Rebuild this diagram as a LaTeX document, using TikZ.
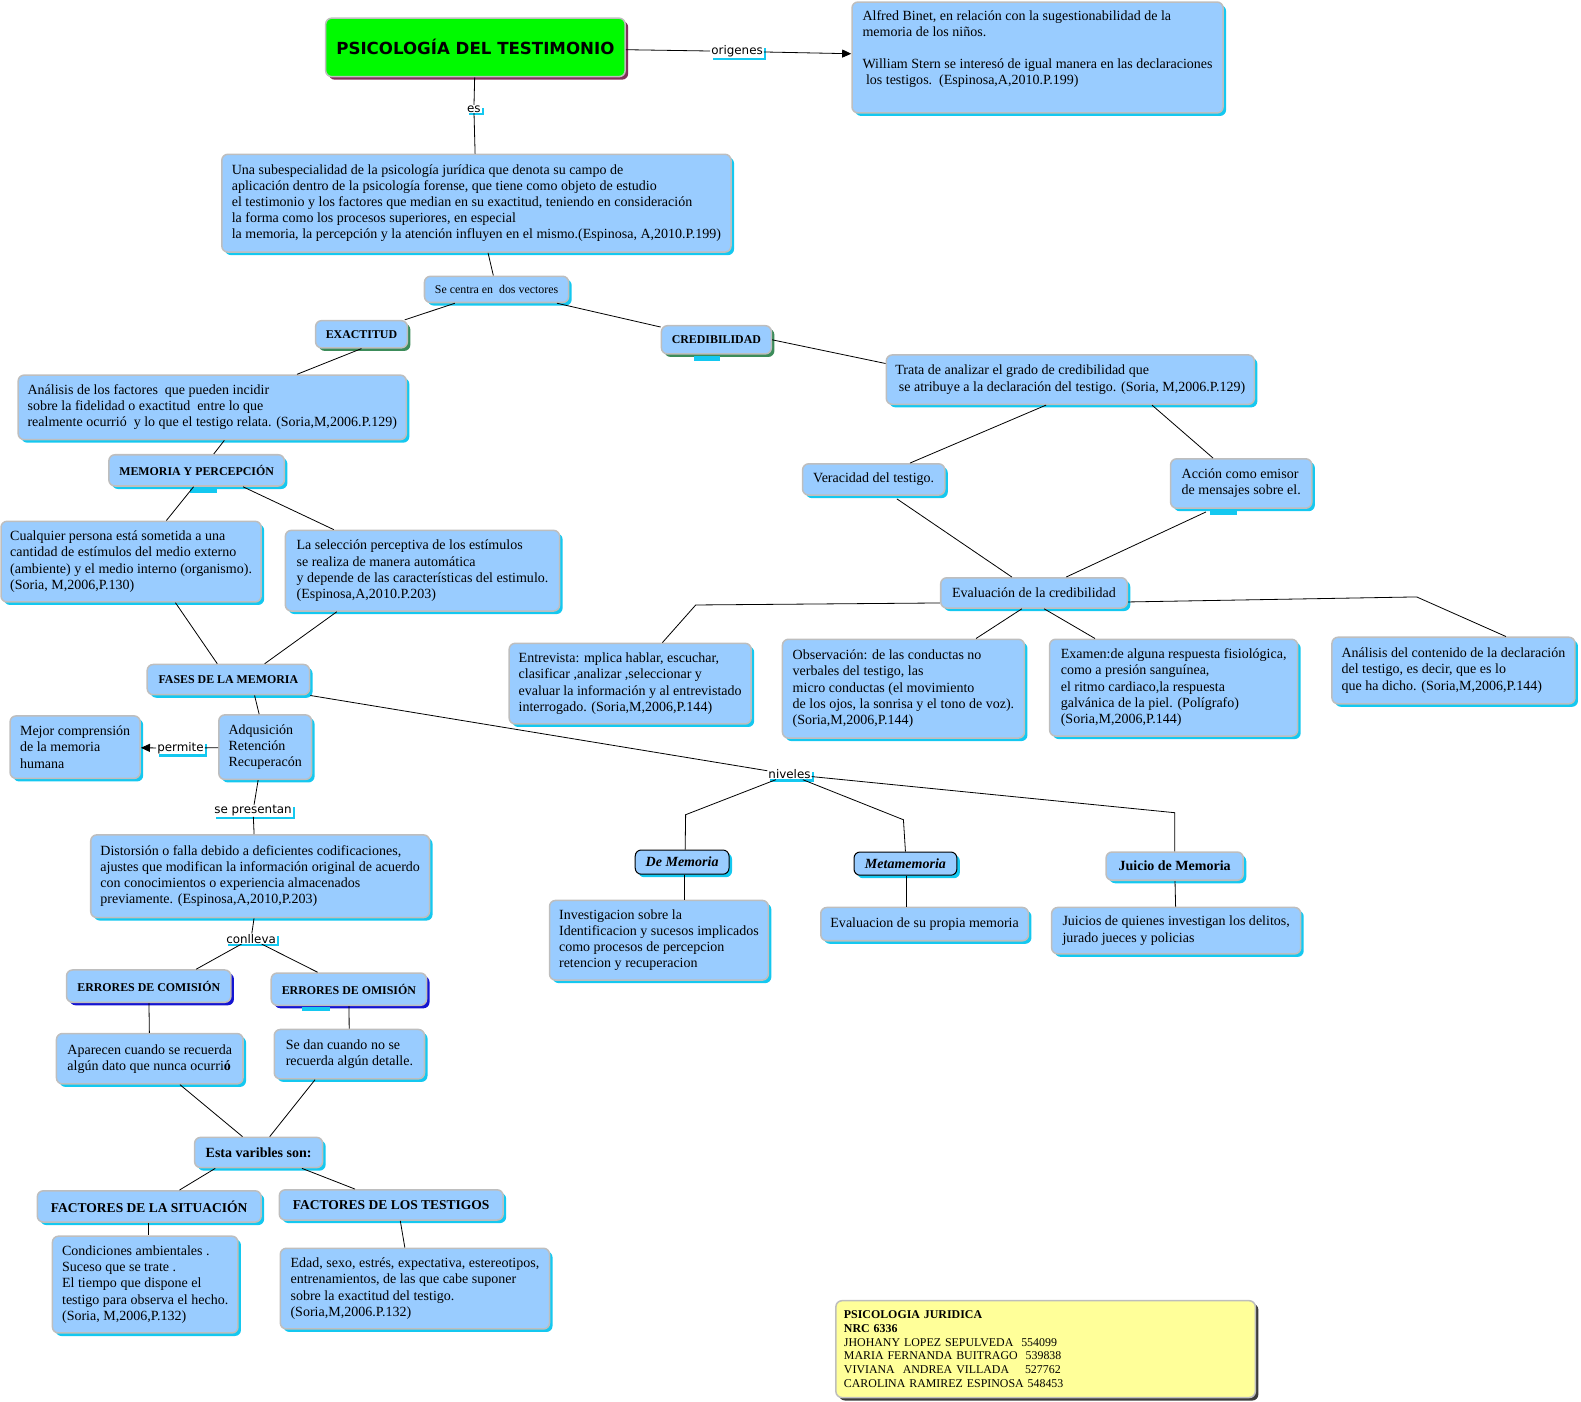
\documentclass[tikz,border=0pt]{standalone}
\usepackage{fontspec}
\setmainfont{Liberation Serif}
\newfontfamily\linkfont{DejaVu Sans}
\usetikzlibrary{arrows.meta, shadows}

\definecolor{cfill}{RGB}{153,204,255}
\definecolor{bordgray}{RGB}{190,190,190}
\definecolor{shcyan}{RGB}{20,200,240}
\definecolor{shgreen}{RGB}{60,140,90}
\definecolor{shblue}{RGB}{20,20,210}
\definecolor{shmaroon}{RGB}{130,50,90}
\definecolor{shdark}{RGB}{60,60,60}
\definecolor{titlegreen}{RGB}{0,250,0}
\definecolor{footyellow}{RGB}{255,255,153}

\begin{document}
\begin{tikzpicture}[
    x=1pt, y=-1pt,
    shade/.style={drop shadow={shadow xshift=3pt, shadow yshift=-3pt, fill=#1, opacity=1}},
    cbase/.style={rectangle, rounded corners=6pt, draw=bordgray, line width=1.5pt, fill=cfill,
        inner xsep=8pt, inner ysep=3pt, align=left, font=\fontsize{13.9}{16}\selectfont},
    concept/.style={cbase, shade=shcyan},
    ctr/.style={concept, align=center},
    hbase/.style={cbase, align=center, inner xsep=4pt, font=\fontsize{11.8}{14}\selectfont\bfseries},
    head/.style={hbase, shade=shcyan},
    ghead/.style={hbase, shade=shgreen},
    bhead/.style={hbase, shade=shblue},
    ihead/.style={hbase, shade=shcyan, draw=black, line width=1pt, font=\fontsize{13.9}{16}\selectfont\bfseries\itshape},
    bighead/.style={head, font=\fontsize{13.4}{16}\selectfont\bfseries},
    lnk/.style={fill=white, inner xsep=1pt, inner ysep=0.5pt, font=\linkfont\fontsize{11.8}{14}\selectfont,
        drop shadow={shadow xshift=2.5pt, shadow yshift=-2.5pt, fill=shcyan, opacity=1}},
    con/.style={line width=0.8pt},
    arr/.style={con, -{Triangle[length=9pt, width=8pt]}}
]
\useasboundingbox (0,0) rectangle (1568,1390);

%% ── Top: title and origins ─────────────────────────────────────────────────
\node[cbase, shade=shmaroon, fill=titlegreen, align=center, minimum width=297pt, minimum height=58pt,
      font=\linkfont\bfseries\fontsize{16.5}{19}\selectfont] (title) at (471.5,47) {PSICOLOGÍA DEL TESTIMONIO};
\node[concept, minimum width=368pt, minimum height=110pt] (binet) at (1029,57)
  {Alfred Binet, en relación con la sugestionabilidad de la\\
   memoria de los niños.\\[16pt]
   William Stern se interesó de igual manera en las declaraciones\\
   \ los testigos.\ \ (Espinosa,A,2010.P.199)\\[4pt]\mbox{}};
\node[lnk] (orig) at (731,51) {origenes};
\node[lnk] (es)   at (470,108) {es};

\node[concept, minimum width=505pt, minimum height=97pt] (def) at (472.5,201.5)
  {Una subespecialidad de la psicología jurídica que denota su campo de\\
   aplicación dentro de la psicología forense, que tiene como objeto de estudio\\
   el testimonio y los factores que median en su exactitud, teniendo en consideración\\
   la forma como los procesos superiores, en especial\\
   la memoria, la percepción y la atención influyen en el mismo.(Espinosa, A,2010.P.199)};
\node[ctr, minimum width=143pt, minimum height=26pt, font=\fontsize{11.8}{14}\selectfont] (centra) at (492.5,287)
  {Se centra en\ \ dos vectores};

%% ── Exactitud branch ───────────────────────────────────────────────────────
\node[ghead, minimum width=91pt, minimum height=27pt] (exact) at (358.5,331.5) {EXACTITUD};
\node[concept, minimum width=385pt, minimum height=64pt] (anal) at (210.5,404)
  {Análisis de los factores\ \ que pueden incidir\\
   sobre la fidelidad o exactitud\ \ entre lo que\\
   realmente ocurrió\ \ y lo que el testigo relata. (Soria,M,2006.P.129)};
\node[head, minimum width=174pt, minimum height=31pt] (memo) at (195,466.5) {MEMORIA Y PERCEPCIÓN};
\node[concept, minimum width=258pt, minimum height=80pt] (cualq) at (130,557)
  {Cualquier persona está sometida a una\\
   cantidad de estímulos del medio externo\\
   (ambiente) y el medio interno (organismo).\\
   (Soria, M,2006,P.130)};
\node[concept, minimum width=272pt, minimum height=80pt] (selec) at (419,566)
  {La selección perceptiva de los estímulos\\
   se realiza de manera automática\\
   y depende de las características del estimulo.\\
   (Espinosa,A,2010.P.203)};
\node[head, minimum width=161pt, minimum height=30pt] (fases) at (226.5,674) {FASES DE LA MEMORIA};
\node[concept, minimum width=92pt, minimum height=64pt] (adq) at (263,741)
  {Adqusición\\Retención\\Recuperacón};
\node[concept, minimum width=129pt, minimum height=62pt] (mejor) at (74.5,741)
  {Mejor comprensión\\de la memoria\\humana};
\node[lnk] (perm)   at (179,742) {permite};
\node[lnk] (sepres) at (251,804) {se presentan};
\node[concept, minimum width=336pt, minimum height=82pt] (dist) at (258,869)
  {Distorsión o falla debido a deficientes codificaciones,\\
   ajustes que modifican la información original de acuerdo\\
   con conocimientos o experiencia almacenados\\
   previamente. (Espinosa,A,2010,P.203)};
\node[lnk] (conl) at (249,931) {conlleva};

%% ── Errors and variables ───────────────────────────────────────────────────
\node[bhead, minimum width=163pt, minimum height=32pt] (comis) at (147.5,978) {ERRORES DE COMISIÓN};
\node[bhead, minimum width=154pt, minimum height=32pt] (omis)  at (346,981)   {ERRORES DE OMISIÓN};
\node[concept, minimum width=185pt, minimum height=50pt] (apar) at (148.5,1050)
  {Aparecen cuando se recuerda\\algún dato que nunca ocurri\textbf{ó}};
\node[concept, minimum width=149pt, minimum height=49pt] (sedan) at (346.5,1045.5)
  {Se dan cuando no se\\recuerda algún detalle.};
\node[head, minimum width=127pt, minimum height=30pt, font=\fontsize{13.9}{16}\selectfont\bfseries] (esta) at (256.5,1143)
  {Esta varibles son:};
\node[bighead, minimum width=222pt, minimum height=31pt] (fsit)  at (148,1196.5) {FACTORES DE LA SITUACIÓN};
\node[bighead, minimum width=222pt, minimum height=30pt] (ftest) at (388,1195)   {FACTORES DE LOS TESTIGOS};
\node[concept, minimum width=184pt, minimum height=96pt] (cond) at (144,1274)
  {Condiciones ambientales .\\
   Suceso que se trate .\\
   El tiempo que dispone el\\
   testigo para observa el hecho.\\
   (Soria, M,2006,P.132)};
\node[concept, minimum width=267pt, minimum height=80pt] (edad) at (411.5,1278)
  {Edad, sexo, estrés, expectativa, estereotipos,\\
   entrenamientos, de las que cabe suponer\\
   sobre la exactitud del testigo.\\
   (Soria,M,2006.P.132)};

%% ── Footer ─────────────────────────────────────────────────────────────────
\node[cbase, shade=shdark, fill=footyellow, minimum width=416pt, minimum height=96pt, text width=400pt,
      font=\fontsize{11.8}{13.8}\selectfont] (foot) at (1037,1338)
  {\textbf{PSICOLOGIA JURIDICA}\\
   \textbf{NRC 6336}\\
   JHOHANY LOPEZ SEPULVEDA\ \ 554099\\
   MARIA FERNANDA BUITRAGO\ \ 539838\\
   VIVIANA\ \ ANDREA VILLADA\ \ \ \ 527762\\
   CAROLINA RAMIREZ ESPINOSA 548453};

%% ── Credibilidad branch ────────────────────────────────────────────────────
\node[ghead, minimum width=109pt, minimum height=28pt] (cred) at (710.5,337) {CREDIBILIDAD};
\node[concept, minimum width=365pt, minimum height=49pt] (trata) at (1061.5,376.5)
  {Trata de analizar el grado de credibilidad que\\
   \ se atribuye a la declaración del testigo. (Soria, M,2006.P.129)};
\node[ctr, minimum width=141pt, minimum height=31pt] (verac) at (866.5,475.5) {Veracidad del testigo.};
\node[concept, minimum width=140pt, minimum height=49pt] (accion) at (1231,479.5)
  {Acción como emisor\\de mensajes sobre el.};
\node[ctr, minimum width=185pt, minimum height=30pt] (evalc) at (1025.5,588) {Evaluación de la credibilidad};
\node[concept, minimum width=240pt, minimum height=80pt] (entrev) at (625,678)
  {Entrevista: mplica hablar, escuchar,\\
   clasificar ,analizar ,seleccionar y\\
   evaluar la información y al entrevistado\\
   interrogado. (Soria,M,2006,P.144)};
\node[concept, minimum width=240pt, minimum height=98pt] (obs) at (896,683)
  {Observación: de las conductas no\\
   verbales del testigo, las\\
   micro conductas (el movimiento\\
   de los ojos, la sonrisa y el tono de voz).\\
   (Soria,M,2006,P.144)};
\node[concept, minimum width=246pt, minimum height=96pt] (exam) at (1164,682)
  {Examen:de alguna respuesta fisiológica,\\
   como a presión sanguínea,\\
   el ritmo cardiaco,la respuesta\\
   galvánica de la piel. (Polígrafo)\\
   (Soria,M,2006,P.144)};
\node[concept, minimum width=241pt, minimum height=66pt] (analc) at (1441.5,665)
  {Análisis del contenido de la declaración\\
   del testigo, es decir, que es lo\\
   que ha dicho. (Soria,M,2006,P.144)};

%% ── Niveles ────────────────────────────────────────────────────────────────
\node[lnk] (niv) at (783,768) {niveles};
\node[ihead, minimum width=93pt,  minimum height=24pt] (demem)  at (676.5,855) {De Memoria};
\node[ihead, minimum width=102pt, minimum height=23pt] (meta)   at (898,856.5) {Metamemoria};
\node[head, minimum width=136pt, minimum height=28pt, font=\fontsize{13.9}{16}\selectfont\bfseries] (juicio) at (1165,859)
  {Juicio de Memoria};
\node[concept, minimum width=217pt, minimum height=79pt] (invest) at (653.5,932.5)
  {Investigacion sobre la\\
   Identificacion y sucesos implicados\\
   como procesos de percepcion\\
   retencion y recuperacion};
\node[ctr, minimum width=206pt, minimum height=33pt] (evprop) at (917,916.5) {Evaluacion de su propia memoria};
\node[concept, minimum width=247pt, minimum height=46pt] (juicios) at (1166.5,923)
  {Juicios de quienes investigan los delitos,\\
   jurado jueces y policias};

%% ── Small cyan bars under some concepts ────────────────────────────────────
\fill[shcyan] ([xshift=-7pt,yshift=-1pt]memo.south)     rectangle ++(27,5);
\fill[shcyan] ([xshift=-22pt,yshift=-1pt]cred.south)    rectangle ++(26,5);
\fill[shcyan] ([xshift=-31pt,yshift=-1pt]accion.south)  rectangle ++(27,5);
\fill[shcyan] ([xshift=-46pt,yshift=-1pt]omis.south)    rectangle ++(27,4);

%% ── Connectors: top ────────────────────────────────────────────────────────
\draw[con] (title) -- (orig);
\draw[arr] (orig) -- (binet);
\draw[con] (title) -- (es);
\draw[con] (es) -- (def);
\draw[con] (def) -- (centra);
\draw[con] (centra) -- (exact);
\draw[con] (centra) -- (cred);

%% ── Connectors: exactitud ──────────────────────────────────────────────────
\draw[con] (exact.south) -- ([xshift=84pt]anal.north);
\draw[con] ([xshift=12pt]anal.south) -- ([xshift=17pt]memo.north);
\draw[con] ([xshift=-3pt]memo.south) -- ([xshift=35pt]cualq.north);
\draw[con] ([xshift=46pt]memo.south) -- ([xshift=-88pt]selec.north);
\draw[con] ([xshift=44pt]cualq.south) -- ([xshift=-11pt]fases.north);
\draw[con] ([xshift=-85pt]selec.south) -- ([xshift=36pt]fases.north);
\draw[con] ([xshift=26pt]fases.south) -- ([xshift=-6pt]adq.north);
\draw[con] (adq) -- (perm);
\draw[arr] (perm) -- (mejor);
\draw[con] ([xshift=-7pt]adq.south) -- (sepres);
\draw[con] (sepres) -- ([xshift=-6pt]dist.north);
\draw[con] (dist) -- (conl);
\draw[con] (conl) -- ([xshift=47pt]comis.north);
\draw[con] (conl) -- ([xshift=-31pt]omis.north);
\draw[con] (comis) -- (apar);
\draw[con] (omis) -- (sedan);
\draw[con] ([xshift=30pt]apar.south) -- ([xshift=-16pt]esta.north);
\draw[con] ([xshift=-34pt]sedan.south) -- ([xshift=11pt]esta.north);
\draw[con] ([xshift=-43pt]esta.south) -- ([xshift=30pt]fsit.north);
\draw[con] ([xshift=43pt]esta.south) -- ([xshift=-36pt]ftest.north);
\draw[con] ([xshift=-1pt]fsit.south) -- ([xshift=3pt]cond.north);
\draw[con] ([xshift=9pt]ftest.south) -- ([xshift=-10pt]edad.north);

%% ── Connectors: niveles ────────────────────────────────────────────────────
\draw[con] (fases.south east) -- (niv);
\draw[con] (niv) -- (680,808) -- ([xshift=3pt]demem.north);
\draw[con] (niv) -- (896,813) -- (meta.north);
\draw[con] (niv) -- (1165,806) -- (juicio.north);
\draw[con] ([xshift=2pt]demem.south) -- ([xshift=25pt]invest.north);
\draw[con] ([xshift=1pt]meta.south) -- ([xshift=-18pt]evprop.north);
\draw[con] (juicio) -- (juicios);

%% ── Connectors: credibilidad ───────────────────────────────────────────────
\draw[con] (cred.east) -- ([yshift=16pt]trata.west);
\draw[con] ([xshift=-24pt]trata.south) -- ([xshift=36pt]verac.north);
\draw[con] ([xshift=81pt]trata.south) -- ([xshift=-28pt]accion.north);
\draw[con] ([xshift=23pt,yshift=-3pt]verac.south) -- ([xshift=-22pt]evalc.north);
\draw[con] ([xshift=-35pt,yshift=-3pt]accion.south) -- ([xshift=32pt]evalc.north);
\draw[con] ([yshift=-10pt]evalc.west) -- (690,600) -- ([xshift=32pt]entrev.north);
\draw[con] ([xshift=-12pt]evalc.south) -- ([xshift=72pt]obs.north);
\draw[con] ([xshift=10pt]evalc.south) -- ([xshift=-78pt]exam.north);
\draw[con] ([yshift=-9pt]evalc.east) -- (1405,592) -- ([xshift=52pt]analc.north);

\end{tikzpicture}
\end{document}
